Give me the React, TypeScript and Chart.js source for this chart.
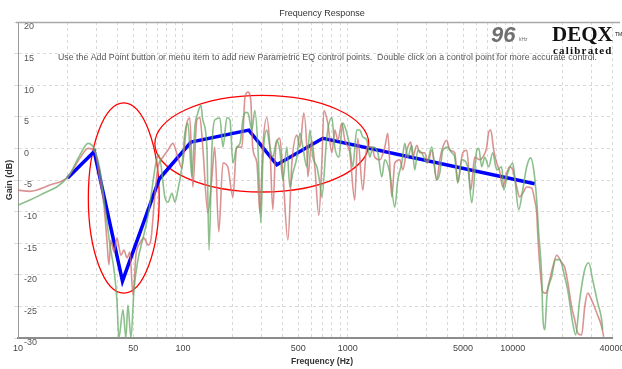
import React, { useEffect, useRef } from "react";
import { Chart, registerables } from "chart.js";

Chart.register(...registerables);

// ---- Data ----
const redFreq = [
  10, 11.8, 15.6, 20.1, 23.8, 26.6, 29.3, 31.4, 33.2, 34.6,
  35.6, 36.6, 38.2, 39.8, 42.1, 43.9, 45.8, 47.7, 49.8, 51.9,
  54.9, 58.1, 61.5, 63.9, 67.6, 70.5, 75.6, 81.1, 87, 93.2,
  98.6, 105.7, 110.2, 114.9, 121.5, 126.7, 132, 141.7, 150, 156,
  165, 175, 187, 201, 212, 228, 238, 248, 258, 265,
  281, 293, 305, 323, 337, 351, 366, 387, 404, 433,
  458, 491, 512, 541, 564, 572, 605, 631, 667, 696,
  716, 756, 800, 834, 870, 920, 959, 1028, 1101, 1149,
  1233, 1304, 1398, 1458, 1563, 1676, 1748, 1848, 1927, 2066,
  2155, 2278, 2409, 2477, 2619, 2732, 2929, 3054, 3229, 3462,
  3611, 3766, 3981, 4152, 4452, 4642, 4978, 5263, 5566, 5885,
  6311, 6581, 6958, 7155, 7357, 7671, 8000, 8343, 8699, 9197,
  9590, 10000, 10573, 11025, 11496, 12157, 13038, 13594, 13977, 14173,
  14372, 14779, 15199, 15885, 16760, 17476, 18478, 19815, 20663, 21544,
  22781, 23755, 24771, 26190, 27320, 28480, 30120, 32290, 34620, 35600,
];
const redGain = [
  -6.6, -6.8, -5.8, -4.5, -1.5, 0, -0.6, -5.0, -9.0, -14.5,
  -18.4, -14.5, -16.4, -14.2, -16.9, -16.1, -17.3, -16.4, -23.2, -16.9,
  -15.0, -14.2, -15.3, -14.5, -7.4, -3.1, -1.4, -0.3, 0.8, -1.4,
  -3.1, 4.0, 4.8, -6.1, 4.5, 4.9, 0.2, -10.2, -4.5, 0.2,
  -13.2, -2.3, -2.9, -7.7, 0.2, 0.2, 8.1, 8.9, 7.6, 0.2,
  -2.3, -10.2, 0.2, 4.9, 0.2, -9.7, 0.2, 1.6, -3.9, -14.5,
  -2.3, 2.1, 0.2, 5.6, 0.2, -4.5, 1.3, -2.9, -10.6, -2.3,
  6.0, 4.0, -0.7, 2.9, 1.3, 4.0, 1.3, -0.7, -8.2, 1.6,
  -6.6, 0.2, 0.2, -1.4, -1.8, 0.2, 2.4, -7.7, -2.3, -1.8,
  -3.4, -0.3, 1.0, -1.4, 0.5, -0.7, -0.7, -2.3, -0.3, -5.0,
  -1.8, 0.2, 1.3, -0.3, -0.7, -5.3, -0.7, -0.3, -6.6, -1.4,
  -1.8, -1.4, 0.2, 2.6, 2.9, -0.3, -2.3, -3.7, -6.1, -3.9,
  -2.9, -3.4, -6.1, -7.7, -7.1, -6.1, -6.3, -8.2, -10.2, -13.4,
  -16.1, -20.3, -22.7, -22.9, -20.8, -18.8, -16.9, -18.1, -18.8, -21.1,
  -25.1, -27.1, -29.2, -29.5, -25.1, -22.9, -24.0, -26.0, -28.2, -29.8,
];

const greenFreq = [
  10, 13.6, 20.1, 23.8, 26.6, 28.9, 31.4, 33.6, 36.1, 38.2,
  39.8, 40.9, 43.3, 45.1, 46.4, 48.4, 50.5, 53.4, 57.3, 61.5,
  64.8, 68.6, 71.5, 77.8, 81.1, 85.8, 89.4, 93.2, 98.6, 102.8,
  107.2, 113.3, 118.2, 123.2, 128.6, 132, 139.8, 144, 150, 156,
  167.6, 175, 185, 193, 201, 212, 222, 231, 241, 248,
  262, 273, 285, 297, 305, 323, 337, 351, 371, 387,
  404, 427, 445, 464, 491, 512, 534, 564, 589, 614,
  649, 677, 696, 746, 800, 834, 882, 933, 987, 1028,
  1072, 1133, 1182, 1233, 1304, 1360, 1418, 1521, 1607, 1676,
  1797, 1927, 2010, 2125, 2216, 2310, 2443, 2547, 2656, 2809,
  3012, 3229, 3462, 3611, 3766, 4037, 4269, 4452, 4642, 4909,
  5337, 5644, 6052, 6224, 6490, 6767, 7155, 7565, 8000, 8578,
  8820, 9326, 10000, 10283, 10872, 11496, 12157, 12857, 13406, 13977,
  14372, 14987, 15199, 15665, 16108, 17234, 18222, 19270, 20663, 21544,
  23101, 24089, 25468, 27320, 28880, 30540, 32740, 34620, 35100,
];
const greenGain = [
  -9.0, -7.4, -4.5, -1.0, 0.8, 0, -3.4, -9.0, -15.3, -19.2,
  -24.0, -30, -25.5, -30, -24.8, -30, -22.4, -17.6, -14.2, -10.6,
  -6.6, -2.3, -1.0, -7.7, -8.5, -7.1, -8.5, -6.6, -2.9, 2.4,
  4.0, -4.5, 3.4, 5.6, 6.8, 4.5, 0.2, -16.1, 0.2, 4.5,
  4.8, 0.2, 4.9, 4.5, -2.3, 0.2, 0.8, 4.5, 5.7, 5.6,
  2.9, 6.0, 0.2, -11.8, -2.3, 2.9, 0.2, -1.4, 1.3, -0.3,
  -5.0, 0.2, -6.1, -3.9, -1.4, 2.4, 0.2, -2.9, 2.9, -1.4,
  -2.9, -5.5, -7.7, 1.8, 4.9, 0.2, -1.4, 4.0, 2.4, 0.2,
  -2.9, 2.9, 2.9, 1.8, 1.3, -1.4, 0.2, -0.7, -4.5, -1.8,
  -3.9, -9.3, -5.0, -2.3, 0.8, -1.4, 0.5, -3.4, -0.3, -0.7,
  -2.3, 0.2, -5.0, -3.9, -0.3, 0.2, -0.7, -1.4, -5.5, -1.8,
  -2.9, -8.6, -0.3, 0, -2.9, -1.4, -2.9, -0.7, -3.4, -2.9,
  -6.6, -3.9, -2.3, -4.5, -9.7, -6.6, -2.9, -1.5, -3.4, -8.2,
  -13.4, -20.3, -26.0, -28.7, -23.5, -20.3, -17.6, -17.6, -20.3, -22.4,
  -27.6, -29.5, -24.0, -19.2, -18.1, -20.8, -24.4, -27.1, -28.7,
];

// Parametric EQ control points (blue)
const eqFreq = [20, 29, 43, 72, 112, 251, 371, 706, 13600];
const eqGain = [-4.7, -0.5, -21, -4.8, 1.0, 2.9, -2.6, 1.6, -5.6];

// Highlight ellipses (frequency / gain bounds)
const ellipseFreqMin = [26.7, 67.6];
const ellipseFreqMax = [71.8, 1340];
const ellipseGainMin = [-22.9, -6.9];
const ellipseGainMax = [7.2, 8.4];

// Axes
const xGridTicks = [
  10, 20, 30, 40, 50, 60, 70, 80, 90,
  100, 200, 300, 400, 500, 600, 700, 800, 900,
  1000, 2000, 3000, 4000, 5000, 6000, 7000, 8000, 9000,
  10000, 20000, 30000, 40000,
];
const xLabelTicks = [10, 50, 100, 500, 1000, 5000, 10000, 40000];
const yMin = -30;
const yMax = 20;
const yStep = 5;

// Texts
const chartTitle = "Frequency Response";
const xTitle = "Frequency (Hz)";
const yTitle = "Gain (dB)";
const hintText =
  "Use the Add Point button or menu item to add new Parametric EQ control points.  Double click on a control point for more accurate control.";

const FONT = '"Liberation Sans", Arial, sans-serif';
const SERIF = '"Liberation Serif", "Times New Roman", serif';

const decor = {
  id: "decor",
  beforeDatasetDraw(chart: any, args: any) {
    if (args.index !== 2) return;
    const { ctx, scales } = chart;
    const x = scales.x;
    const y = scales.y;
    ctx.save();
    ctx.strokeStyle = "#ff0000";
    ctx.lineWidth = 1.3;
    for (let i = 0; i < ellipseFreqMin.length; i++) {
      const x1 = x.getPixelForValue(ellipseFreqMin[i]);
      const x2 = x.getPixelForValue(ellipseFreqMax[i]);
      const y1 = y.getPixelForValue(ellipseGainMax[i]);
      const y2 = y.getPixelForValue(ellipseGainMin[i]);
      ctx.beginPath();
      ctx.ellipse((x1 + x2) / 2, (y1 + y2) / 2, (x2 - x1) / 2, (y2 - y1) / 2, 0, 0, Math.PI * 2);
      ctx.stroke();
    }
    ctx.restore();
  },
  afterDraw(chart: any) {
    const { ctx, chartArea } = chart;
    ctx.save();
    // top frame line
    ctx.strokeStyle = "#a8a8a8";
    ctx.lineWidth = 1.5;
    ctx.beginPath();
    ctx.moveTo(chartArea.left - 2, chartArea.top + 0.5);
    ctx.lineTo(620, chartArea.top + 0.5);
    ctx.stroke();

    ctx.textBaseline = "middle";
    ctx.textAlign = "center";
    ctx.fillStyle = "#333";
    ctx.font = `9px ${FONT}`;
    ctx.fillText(chartTitle, 322, 14);
    ctx.font = `bold 9px ${FONT}`;
    ctx.fillText(xTitle, 322, 362, 62);

    ctx.textAlign = "left";
    ctx.fillStyle = "#555";
    ctx.font = `8.8px ${FONT}`;
    ctx.fillText(hintText, 58, 58, 539);

    // logo
    ctx.textBaseline = "alphabetic";
    ctx.fillStyle = "#707070";
    ctx.font = `italic bold 22px ${FONT}`;
    ctx.fillText("96", 491, 42, 26);
    ctx.font = `5px ${FONT}`;
    ctx.fillText("kHz", 519, 41);
    ctx.fillStyle = "#111";
    ctx.font = `bold 21px ${SERIF}`;
    ctx.fillText("DEQX", 552, 41, 63);
    ctx.font = `bold 11px ${SERIF}`;
    (ctx as any).letterSpacing = "1.2px";
    ctx.fillText("calibrated", 553, 54);
    (ctx as any).letterSpacing = "0px";
    ctx.font = `5px ${FONT}`;
    ctx.fillText("TM", 615, 36);
    ctx.restore();
  },
};

export default function App() {
  const ref = useRef<HTMLCanvasElement>(null);
  useEffect(() => {
    document.body.style.margin = "0";
    const canvas = ref.current;
    if (!canvas) return;
    const chart = new Chart(canvas, {
      type: "line",
      data: {
        datasets: [
          {
            label: "Left",
            data: greenFreq.map((f, i) => ({ x: f, y: greenGain[i] })),
            borderColor: "rgba(100,170,100,0.75)",
            borderWidth: 1.6,
            pointRadius: 0,
            cubicInterpolationMode: "monotone",
            fill: false,
          },
          {
            label: "Right",
            data: redFreq.map((f, i) => ({ x: f, y: redGain[i] })),
            borderColor: "rgba(205,110,110,0.75)",
            borderWidth: 1.6,
            pointRadius: 0,
            cubicInterpolationMode: "monotone",
            fill: false,
          },
          {
            label: "EQ",
            data: eqFreq.map((f, i) => ({ x: f, y: eqGain[i] })),
            borderColor: "#0000ff",
            borderWidth: 3.5,
            pointRadius: 0,
            tension: 0,
            fill: false,
          },
        ],
      },
      options: {
        animation: false,
        responsive: false,
        devicePixelRatio: 1,
        layout: { padding: { top: 22, right: 10, left: 0, bottom: 0 } },
        plugins: {
          legend: { display: false },
          tooltip: { enabled: false },
          title: { display: false },
        },
        scales: {
          x: {
            type: "logarithmic",
            min: 10,
            max: 40000,
            position: "bottom",
            afterBuildTicks: (s: any) => {
              s.ticks = xGridTicks.map((v) => ({ value: v }));
            },
            afterFit: (s: any) => {
              s.height = 31;
              s.paddingLeft = 0;
              s.paddingRight = 0;
            },
            ticks: {
              autoSkip: false,
              maxRotation: 0,
              minRotation: 0,
              padding: 5,
              color: "#444",
              font: { family: FONT, size: 9 },
              callback: (v: any) => (xLabelTicks.includes(Number(v)) ? String(v) : ""),
            },
            grid: { color: "#d9d9d9", lineWidth: 1, drawTicks: false },
            border: { display: true, color: "#8c8c8c", width: 2, dash: [3, 3] },
          },
          y: {
            min: yMin,
            max: yMax,
            position: "left",
            afterFit: (s: any) => {
              s.width = 18;
            },
            ticks: {
              stepSize: yStep,
              mirror: true,
              padding: 6,
              labelOffset: 5,
              color: "#555",
              font: { family: FONT, size: 9 },
            },
            grid: { color: "#d9d9d9", lineWidth: 1, drawTicks: true, tickLength: 4 },
            border: { display: true, color: "#9a9a9a", width: 1, dash: [3, 3] },
            title: {
              display: true,
              text: yTitle,
              color: "#333",
              font: { family: FONT, size: 9, weight: "bold" },
              padding: { top: 4, bottom: 0 },
            },
          },
        },
      },
      plugins: [decor],
    } as any);
    return () => chart.destroy();
  }, []);
  return <canvas ref={ref} width={622} height={369} style={{ display: "block" }} />;
}
